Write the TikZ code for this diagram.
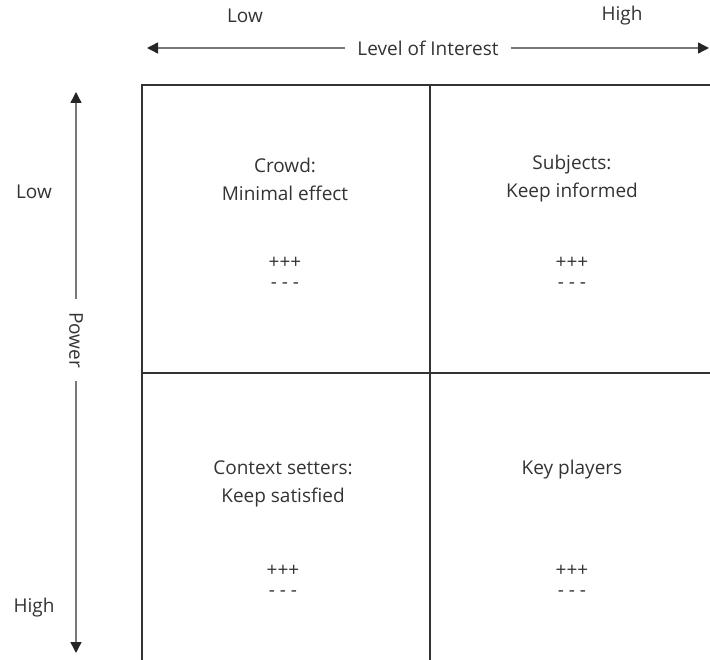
\documentclass[tikz,border=0pt]{standalone}
\usepackage{fontspec}
\setmainfont{Open Sans}
\usetikzlibrary{arrows.meta}
\definecolor{txt_grey}{RGB}{51, 51, 51}
\definecolor{axis_grey}{RGB}{120, 120, 120}
\tikzstyle{lbl}=[text=txt_grey,font=\fontsize{19}{28}\selectfont,align=center,inner sep=0pt]
\tikzstyle{sgn}=[text=txt_grey,font=\fontsize{19}{20}\selectfont,align=center,inner sep=0pt]
\tikzstyle{ax}=[axis_grey,line width=1.4pt,-{Triangle[length=11pt,width=11pt,color=black!85]},shorten >=0pt]
\tikzstyle{grid}=[draw=txt_grey,line width=1.4pt]
\tikzstyle{none}=[]

\begin{document}
\begin{tikzpicture}[x=1pt,y=-1pt]
    \useasboundingbox (0,0) rectangle (710,660);
            % level of interest axis
            \node [style=lbl] (0) at (245, 16) {Low};
            \node [style=lbl] (1) at (622, 16) {High};
            \node [style=lbl, inner xsep=12pt] (2) at (428, 48) {Level of Interest};
            \coordinate (3) at (147, 48);
            \coordinate (4) at (709, 48);
            \draw [style=ax] (2) to (3);
            \draw [style=ax] (2) to (4);
            % power axis
            \node [style=lbl] (5) at (34, 192) {Low};
            \node [style=lbl] (6) at (34, 608) {High};
            \node [style=lbl, rotate=-90, inner xsep=13pt] (7) at (76, 340) {Power};
            \coordinate (8) at (76, 92);
            \coordinate (9) at (76, 653);
            \draw [style=ax] (7) to (8);
            \draw [style=ax] (7) to (9);
            % grid
            \draw [style=grid] (141, 85) to (710, 85);
            \draw [style=grid] (141, 373) to (710, 373);
            \draw [style=grid] (142, 85) to (142, 660);
            \draw [style=grid] (430, 85) to (430, 660);
            % quadrants
            \node [style=lbl] (10) at (285, 179) {Crowd:\\Minimal effect};
            \node [style=lbl] (11) at (572, 179) {Subjects:\\Keep informed};
            \node [style=lbl] (12) at (283, 484) {Context setters:\\Keep satisfied};
            \node [style=lbl] (13) at (572, 470) {Key players};
            \node [style=sgn] (14) at (285, 273) {+++\\- - -};
            \node [style=sgn] (15) at (572, 273) {+++\\- - -};
            \node [style=sgn] (16) at (283, 581) {+++\\- - -};
            \node [style=sgn] (17) at (572, 581) {+++\\- - -};
    \end{tikzpicture}
\end{document}
